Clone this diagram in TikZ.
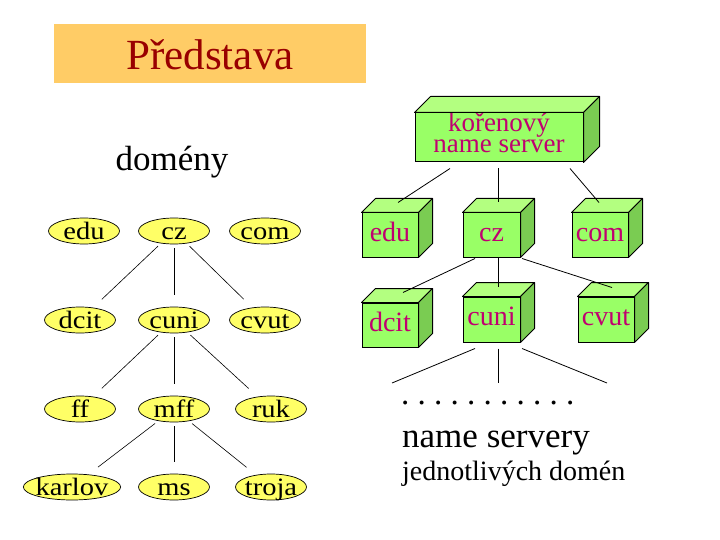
\documentclass[tikz,border=0pt]{standalone}
\usepackage{fontspec}
\setmainfont{Liberation Serif}
\newfontfamily\domfont[FakeStretch=1.14]{Liberation Serif}
\usetikzlibrary{calc,shapes.geometric}
\definecolor{ttlfill}{RGB}{255,204,102}
\definecolor{ttlink}{RGB}{153,0,0}
\definecolor{domfill}{RGB}{255,255,102}
\definecolor{srvfront}{RGB}{153,255,102}
\definecolor{srvtop}{RGB}{179,255,128}
\definecolor{srvside}{RGB}{122,204,82}
\definecolor{srvink}{RGB}{192,0,112}
\tikzset{
  ttl/.style={
    fill=ttlfill, text=ttlink, inner sep=0pt,
    minimum width=312pt, minimum height=59pt,
    text height=32pt, text depth=0pt, font=\fontsize{43}{43}\selectfont
  },
  dom/.style={
    ellipse, draw=black, line width=0.7pt, fill=domfill,
    inner xsep=-2pt, inner ysep=-4pt, minimum width=71pt, minimum height=26pt,
    text height=19pt, text depth=2pt, font=\domfont\fontsize{25}{25}\selectfont
  },
  srv/.style={
    draw=black, line width=1pt, fill=srvfront, text=srvink, inner sep=0pt,
    minimum width=56pt, minimum height=44pt,
    text height=19pt, text depth=7pt, font=\fontsize{28}{28}\selectfont
  },
  face/.style={draw=black, line width=1pt, line join=round},
  tline/.style={draw=black, line width=0.6pt, shorten <=4pt, shorten >=12pt},
  sline/.style={draw=black, line width=0.8pt},
  lbl/.style={inner sep=0pt, font=\fontsize{35}{35}\selectfont}
}
\begin{document}
\begin{tikzpicture}[x=1pt, y=-1pt]
  \useasboundingbox (0,0) rectangle (720,540);
  \node[ttl] (title) at (210,53.5) {Představa};

  % domain tree
  \node[lbl, anchor=base] (domeny) at (172,171) {domény};
  \node[dom] (edu) at (84,231) {edu};
  \node[dom] (cz) at (174,231) {cz};
  \node[dom] (com) at (265,231) {com};
  \node[dom] (dcit) at (80,320) {dcit};
  \node[dom] (cuni) at (174,320) {cuni};
  \node[dom] (cvut) at (265,320) {cvut};
  \node[dom] (ff) at (80,409) {ff};
  \node[dom] (mff) at (174,409) {mff};
  \node[dom] (ruk) at (271,409) {ruk};
  \node[dom] (karlov) at (72,487) {karlov};
  \node[dom] (ms) at (174,487) {ms};
  \node[dom] (troja) at (271,487) {troja};
  \draw[tline] (cz) -- (dcit);
  \draw[tline] (cz) -- (cuni);
  \draw[tline] (cz) -- (cvut);
  \draw[tline] (cuni) -- (ff);
  \draw[tline] (cuni) -- (mff);
  \draw[tline] (cuni) -- (ruk);
  \draw[tline] (mff) -- (karlov);
  \draw[tline] (mff) -- (ms);
  \draw[tline] (mff) -- (troja);

  % name servers
  \node[srv, minimum width=168pt, minimum height=49pt, text height=, text depth=,
    align=center, font=\fontsize{27}{21}\selectfont] (root) at (499,137.5)
    {kořenový\\name server\rule[-9pt]{0pt}{9pt}};
  \node[srv] (sedu) at (390,235) {edu};
  \node[srv, minimum width=57pt] (scz) at (491.5,235) {cz};
  \node[srv] (scom) at (600,235) {com};
  \node[srv] (sdcit) at (390,325) {dcit};
  \node[srv, minimum width=57pt, minimum height=45pt] (scuni) at (491.5,319.5) {cuni};
  \node[srv, minimum height=45pt] (scvut) at (606,319.5) {cvut};
  \foreach \n/\d in {root/16,sedu/14,scz/14,scom/14,sdcit/14,scuni/14,scvut/14} {
    \draw[face, fill=srvtop] (\n.north west) -- ++(\d pt,\d pt)
      -- ($(\n.north east)+(\d pt,\d pt)$) -- (\n.north east) -- cycle;
    \draw[face, fill=srvside] (\n.north east) -- ++(\d pt,\d pt)
      -- ($(\n.south east)+(\d pt,\d pt)$) -- (\n.south east) -- cycle;
  }
  \draw[sline] ($(root.south)+(-49,6)$) -- ($(sedu.north)+(8,-10)$);
  \draw[sline] ($(root.south)+(-1,6)$) -- ($(scz.north)+(6.5,-10)$);
  \draw[sline] ($(root.south)+(71,6)$) -- ($(scom.north)+(-1,-10)$);
  \draw[sline] ($(scz.south)+(-16.5,1)$) -- ($(sdcit.north)+(13,-10)$);
  \draw[sline] ($(scz.south)+(6.5,0)$) -- ($(scuni.north)+(6.5,-10)$);
  \draw[sline] ($(scz.south)+(30.5,1)$) -- ($(scvut.north)+(6,-9)$);
  \coordinate (leafl) at (392,383);
  \coordinate (leafm) at (498,383);
  \coordinate (leafr) at (607,383);
  \draw[sline] ($(scuni.south)+(-16.5,6)$) -- (leafl);
  \draw[sline] ($(scuni.south)+(6.5,6)$) -- (leafm);
  \draw[sline] ($(scuni.south)+(30.5,6)$) -- (leafr);
  \node[anchor=base west, inner sep=0pt, font=\fontsize{33}{33}\selectfont\frenchspacing]
    (dots) at (401,404) {. . . . . . . . . . .};
  \node[lbl, anchor=base west] (servery) at (402,447) {name servery};
  \node[anchor=base west, inner sep=0pt, font=\fontsize{28}{28}\selectfont]
    (jedn) at (402,480) {jednotlivých domén};
\end{tikzpicture}
\end{document}
